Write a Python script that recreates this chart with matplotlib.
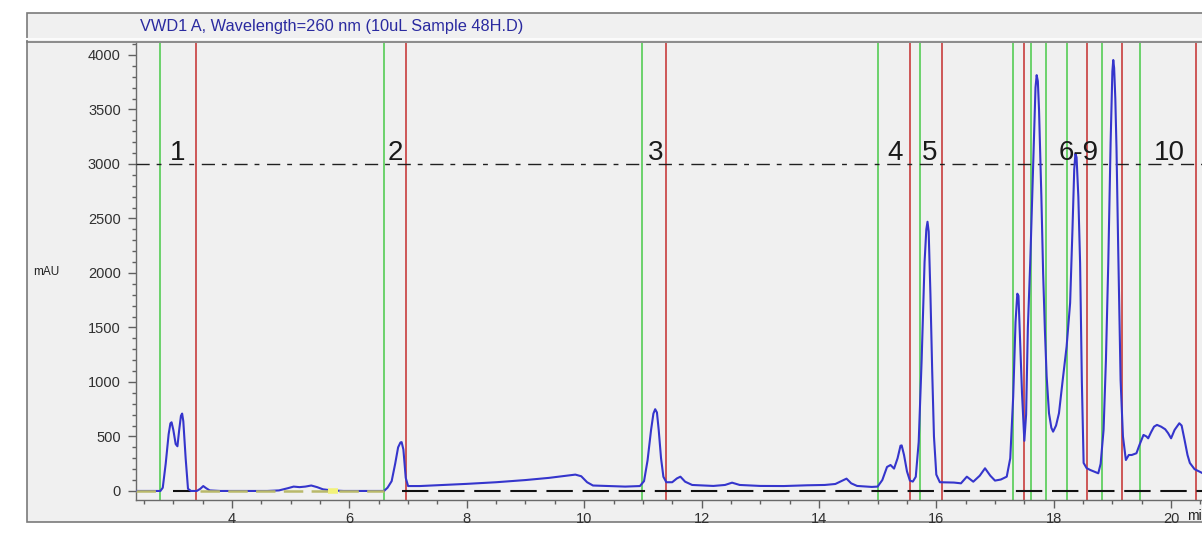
import matplotlib
matplotlib.use("Agg")
import matplotlib.pyplot as plt
from matplotlib.patches import Rectangle
from matplotlib.lines import Line2D
from matplotlib.ticker import MultipleLocator

plt.rcParams['font.family'] = ['Liberation Sans', 'DejaVu Sans']
plt.rcParams['lines.scale_dashes'] = False

title = "VWD1 A, Wavelength=260 nm (10uL Sample 48H.D)"

# retention time (min) and absorbance (mAU)
time_min = [2.36, 2.78, 2.82, 2.87, 2.92, 2.95, 2.97, 3.00, 3.04, 3.07, 3.10, 3.13, 3.15, 3.17, 3.21, 3.25, 3.30,
            3.40, 3.46, 3.51, 3.56, 3.62, 3.8, 4.2, 4.6, 4.8, 4.95, 5.05, 5.15, 5.25, 5.35, 5.45,
            5.55, 5.7, 5.9, 6.3, 6.59, 6.65, 6.72, 6.78, 6.83, 6.87, 6.89, 6.92, 6.96, 7.00, 7.2, 7.6,
            8.0, 8.5, 9.0, 9.4, 9.7, 9.85, 9.95, 10.05, 10.15, 10.4, 10.7, 10.95, 11.02, 11.08, 11.14,
            11.18, 11.21, 11.24, 11.27, 11.31, 11.35, 11.40, 11.50, 11.58, 11.64, 11.72, 11.84, 12.2, 12.40, 12.52, 12.65, 13.0,
            13.4, 13.8, 14.1, 14.28, 14.40, 14.47, 14.55, 14.65, 14.9, 15.00, 15.08, 15.16, 15.22, 15.28, 15.34,
            15.39, 15.41, 15.45, 15.50, 15.55, 15.60, 15.65, 15.70, 15.75, 15.80, 15.83, 15.85, 15.87, 15.90, 15.93,
            15.96, 16.00, 16.06,
            16.3, 16.42, 16.52, 16.63, 16.74, 16.83, 16.92, 17.00, 17.1, 17.2, 17.26, 17.31, 17.35, 17.38, 17.40, 17.42,
            17.46, 17.50, 17.53, 17.56, 17.60, 17.65, 17.69, 17.71, 17.73, 17.75, 17.79, 17.82, 17.85, 17.88, 17.92, 17.96,
            17.99, 18.04, 18.09, 18.15, 18.22, 18.28, 18.32, 18.35, 18.37, 18.39, 18.42, 18.45, 18.48, 18.51, 18.56, 18.62,
            18.70, 18.76, 18.80, 18.85, 18.89, 18.93, 18.97, 19.00, 19.015, 19.03, 19.05, 19.07, 19.10, 19.14, 19.18, 19.23,
            19.28, 19.33, 19.38, 19.41, 19.46, 19.53, 19.58, 19.61, 19.66, 19.71, 19.76, 19.83, 19.90, 19.95, 20.00,
            20.06, 20.14, 20.18, 20.23, 20.28, 20.32, 20.40, 20.53]
mau = [0, 0, 30, 250, 520, 620, 630, 560, 430, 410, 560, 690, 710, 640, 300, 20, 0,
       0, 20, 45, 25, 5, 0, 0, 0, 5, 25, 40, 35, 40, 50, 35,
       15, 5, 0, 0, 0, 30, 90, 250, 400, 445, 448, 380, 120, 45, 45, 55,
       65, 80, 100, 120, 140, 150, 135, 80, 50, 45, 40, 45, 90, 280, 560,
       710, 750, 720, 560, 300, 130, 80, 80, 115, 131, 85, 55, 46, 55, 76, 55, 46,
       45, 52, 55, 64, 95, 113, 70, 46, 37, 40, 100, 220, 238, 205, 300,
       415, 418, 330, 180, 95, 86, 130, 450, 1200, 2100, 2400, 2470, 2380, 1800, 1100,
       500, 150, 80,
       77, 70, 131, 85, 140, 208, 140, 95, 105, 131, 300, 865, 1550, 1810, 1790, 1500,
       900, 460, 700, 1500, 2090, 3000, 3700, 3815, 3760, 3500, 2700, 2000, 1477, 1050, 713, 580,
       544, 600, 713, 1000, 1324, 1725, 2400, 2950, 3095, 3060, 2700, 2090, 1000, 257, 210, 193,
       175, 162, 250, 560, 1200, 2090, 3200, 3850, 3954, 3880, 3600, 3150, 2200, 1018, 500, 284,
       330, 330, 340, 346, 420, 514, 500, 483, 540, 590, 606, 590, 566, 530, 483,
       560, 621, 600, 468, 330, 257, 200, 165]

# integration start (green) and end (red) markers
start_marks = [2.77, 6.59, 10.99, 15.01, 15.72, 17.30, 17.61, 17.87, 18.22, 18.82, 19.47]
end_marks = [3.39, 6.97, 11.39, 15.56, 16.10, 17.50, 18.56, 19.16, 20.42]

peak_labels = ["1", "2", "3", "4", "5", "6-9", "10"]
peak_label_t = [3.08, 6.78, 11.21, 15.30, 15.88, 18.43, 19.97]
label_level = 3040
threshold = 3000

baseline_black = [(3.00, 3.30), (6.90, 20.53)]
baseline_olive = [(2.36, 2.78), (3.45, 6.59)]

W, H = 1202, 534
fig = plt.figure(figsize=(W / 100, H / 100), dpi=100, facecolor='white')

def fx(px):
    return px / W

def fy(py):
    return 1 - py / H

# instrument window frame behind the axes
frame = Rectangle((fx(27), fy(522)), 1.2, fy(13) - fy(522), transform=fig.transFigure,
                  facecolor='#f0f0f0', edgecolor='#7a7a7a', lw=1.2, zorder=-5)
fig.patches.append(frame)
fig.lines.append(Line2D([fx(27), 1], [fy(39), fy(39)], transform=fig.transFigure, color='#fbfbfb', lw=1.5, zorder=-4))
fig.lines.append(Line2D([fx(27), 1], [fy(42), fy(42)], transform=fig.transFigure, color='#7a7a7a', lw=1.2, zorder=-4))
fig.text(fx(140), fy(27), title, color='#2a2aa0', fontsize=11.8, va='center', ha='left')
fig.text(fx(33), fy(272), "mAU", color='#222222', fontsize=8.5, va='center', ha='left')
fig.text(fx(1187), fy(516), "mi", color='#222222', fontsize=10, va='center', ha='left')

ax = fig.add_axes([fx(136), fy(500), 1 - fx(136), fy(43) - fy(500)])
ax.set_facecolor('#f0f0f0')
ax.set_xlim(2.364, 20.527)
ax.set_ylim(-83, 4110)

for t in start_marks:
    ax.axvline(t, color='#55cc55', lw=1.2, zorder=2)
for t in end_marks:
    ax.axvline(t, color='#c83c3c', lw=1.2, zorder=2)

ax.axhline(threshold, color='#202020', lw=1.0, ls=(0, (9.5, 5, 3.5, 5.5)), zorder=3)
for a, b in baseline_black:
    ax.plot([a, b], [0, 0], color='#111111', lw=1.5, ls=(0, (19, 7)), zorder=3)

ax.plot(time_min, mau, color='#3535cc', lw=1.5, zorder=4)

for a, b in baseline_olive:
    ax.plot([a, b], [0, 0], color='#b9b96a', lw=1.8, ls=(0, (14, 6)), zorder=5)
ax.plot([5.64, 5.80], [0, 0], color='#f2f27a', lw=4, solid_capstyle='butt', zorder=5)

for lab, t in zip(peak_labels, peak_label_t):
    ax.text(t, label_level, lab, fontsize=20, color='#1a1a1a', ha='center', va='baseline', zorder=6)

for s in ['top', 'right']:
    ax.spines[s].set_visible(False)
for s in ['left', 'bottom']:
    ax.spines[s].set_color('#6a6a6a')
    ax.spines[s].set_linewidth(1.0)

ax.xaxis.set_major_locator(MultipleLocator(2))
ax.xaxis.set_minor_locator(MultipleLocator(0.5))
ax.yaxis.set_major_locator(MultipleLocator(500))
ax.yaxis.set_minor_locator(MultipleLocator(100))
ax.tick_params(which='major', length=6, width=1, color='#606060', labelsize=10.5, labelcolor='#303030')
ax.tick_params(which='minor', length=3, width=1, color='#606060')
ax.tick_params(axis='y', pad=5)
ax.tick_params(axis='x', pad=2.5)

fig.savefig("out.png", dpi=100, facecolor=fig.get_facecolor())
